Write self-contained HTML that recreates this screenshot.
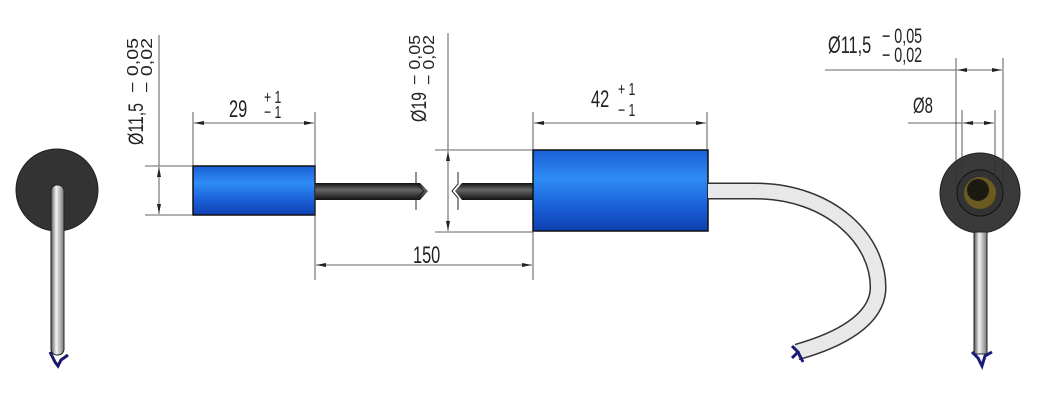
<!DOCTYPE html>
<html><head><meta charset="utf-8"><style>
html,body{margin:0;padding:0;background:#fff;}
svg{display:block;}
text{font-family:"Liberation Sans",sans-serif;fill:#222;}
</style></head><body>
<svg width="1055" height="400" viewBox="0 0 1055 400" xmlns="http://www.w3.org/2000/svg">
<defs>
<linearGradient id="blue" x1="0" y1="0" x2="0" y2="1">
<stop offset="0" stop-color="#1a5fd6"/><stop offset="0.35" stop-color="#2f8cf5"/><stop offset="0.7" stop-color="#1a5fd8"/><stop offset="1" stop-color="#0f3fb0"/>
</linearGradient>
<linearGradient id="rod" x1="0" y1="0" x2="0" y2="1">
<stop offset="0" stop-color="#111"/><stop offset="0.4" stop-color="#666"/><stop offset="1" stop-color="#111"/>
</linearGradient>
<linearGradient id="cabV" x1="0" y1="0" x2="1" y2="0">
<stop offset="0" stop-color="#555"/><stop offset="0.4" stop-color="#f4f4f4"/><stop offset="1" stop-color="#777"/>
</linearGradient>
<marker id="a" viewBox="0 0 10 6" refX="10" refY="3" markerWidth="10" markerHeight="6" orient="auto-start-reverse" markerUnits="userSpaceOnUse"><path d="M0,1 L10,3 L0,5z" fill="#222"/></marker>
</defs>

<circle cx="57" cy="190" r="41" fill="#333" stroke="#222"/>
<rect x="51" y="185" width="13" height="170" rx="6" fill="url(#cabV)" stroke="#222" stroke-width="1"/>
<path d="M50,352 L55,362 L58,366 L61,360 L68,355" stroke="#1a1a6a" stroke-width="3" fill="none"/>

<rect x="193" y="166" width="122" height="49" fill="url(#blue)" stroke="#111" stroke-width="1.5"/>
<path d="M315,183 L420,183 L428,191 L420,200 L315,200z" fill="url(#rod)"/>
<path d="M533,183 L462,183 L455,191 L462,200 L533,200z" fill="url(#rod)"/>
<g stroke="#222" stroke-width="1" fill="none">
<path d="M416,172 V184 L424,191 L416,198 V210"/>
<path d="M458,172 V184 L452,191 L458,198 V210"/>
</g>
<rect x="533" y="150" width="175" height="81" fill="url(#blue)" stroke="#111" stroke-width="1.5"/>
<path d="M708,191 L755,191 C830,191 880,240 878,290 C876,320 840,340 797,352" stroke="#333" stroke-width="17" fill="none"/>
<path d="M708,191 L755,191 C830,191 880,240 878,290 C876,320 840,340 797,352" stroke="#e8e8e8" stroke-width="14" fill="none"/>
<path d="M792,346 L798,352 L792,358 M798,352 L803,362" stroke="#1a1a7a" stroke-width="3" fill="none"/>

<circle cx="980" cy="193" r="40" fill="#3a3a3a" stroke="#222"/>
<circle cx="980" cy="193" r="23" fill="#333" stroke="#111"/>
<circle cx="980" cy="193" r="16" fill="#6b5a20"/>
<circle cx="978" cy="190" r="11" fill="#1a1a10"/>
<rect x="974" y="232" width="13" height="122" fill="url(#cabV)" stroke="#222"/>
<path d="M972,352 L978,358 L982,366 L985,356 L992,352" stroke="#1a1a7a" stroke-width="3" fill="none"/>

<g stroke="#333" stroke-width="0.8" fill="none">
<line x1="193" y1="112" x2="193" y2="166"/><line x1="315" y1="112" x2="315" y2="280"/>
<line x1="194" y1="123" x2="314" y2="123" marker-start="url(#a)" marker-end="url(#a)"/>
<line x1="145" y1="166" x2="193" y2="166"/><line x1="145" y1="215" x2="193" y2="215"/>
<line x1="159" y1="35" x2="159" y2="166"/>
<line x1="159" y1="167" x2="159" y2="214" marker-start="url(#a)" marker-end="url(#a)"/>
<line x1="435" y1="150" x2="533" y2="150"/><line x1="435" y1="232" x2="533" y2="232"/>
<line x1="448" y1="33" x2="448" y2="150"/>
<line x1="448" y1="151" x2="448" y2="231" marker-start="url(#a)" marker-end="url(#a)"/>
<line x1="533" y1="112" x2="533" y2="150"/><line x1="707" y1="112" x2="707" y2="150"/>
<line x1="534" y1="123" x2="706" y2="123" marker-start="url(#a)" marker-end="url(#a)"/>
<line x1="533" y1="232" x2="533" y2="280"/>
<line x1="316" y1="265" x2="532" y2="265" marker-start="url(#a)" marker-end="url(#a)"/>
<line x1="956" y1="58" x2="956" y2="190"/><line x1="1003" y1="58" x2="1003" y2="190"/>
<line x1="825" y1="70" x2="956" y2="70"/>
<line x1="957" y1="70" x2="1002" y2="70" marker-start="url(#a)" marker-end="url(#a)"/>
<line x1="962" y1="110" x2="962" y2="185"/><line x1="995" y1="110" x2="995" y2="185"/>
<line x1="908" y1="123" x2="962" y2="123"/>
<line x1="963" y1="123" x2="994" y2="123" marker-start="url(#a)" marker-end="url(#a)"/>
</g>

<text transform="translate(229,117) scale(0.68,1)" font-size="24">29</text>
<text transform="translate(264,103) scale(0.68,1)" font-size="18">+ 1</text>
<text transform="translate(264,118) scale(0.68,1)" font-size="18">− 1</text>
<text transform="translate(591,107) scale(0.68,1)" font-size="24">42</text>
<text transform="translate(618,95) scale(0.68,1)" font-size="18">+ 1</text>
<text transform="translate(618,116) scale(0.68,1)" font-size="18">− 1</text>
<text transform="translate(413,263) scale(0.68,1)" font-size="24">150</text>
<text transform="translate(828,53) scale(0.68,1)" font-size="24">Ø11,5</text>
<text transform="translate(882,43) scale(0.68,1)" font-size="21">− 0,05</text>
<text transform="translate(882,62) scale(0.68,1)" font-size="21">− 0,02</text>
<text transform="translate(913,113) scale(0.68,1)" font-size="22">Ø8</text>

<g transform="translate(143,145) rotate(-90)">
<text x="0" y="0" font-size="21" textLength="42" lengthAdjust="spacingAndGlyphs">Ø11,5</text>
<text x="52" y="-5" font-size="16" textLength="55" lengthAdjust="spacingAndGlyphs">− 0,05</text>
<text x="52" y="9" font-size="16" textLength="55" lengthAdjust="spacingAndGlyphs">− 0,02</text>
</g>
<g transform="translate(426,122) rotate(-90)">
<text x="0" y="0" font-size="21" textLength="30" lengthAdjust="spacingAndGlyphs">Ø19</text>
<text x="37" y="-6" font-size="16" textLength="50" lengthAdjust="spacingAndGlyphs">− 0,05</text>
<text x="37" y="8" font-size="16" textLength="50" lengthAdjust="spacingAndGlyphs">− 0,02</text>
</g>
</svg>
</body></html>
